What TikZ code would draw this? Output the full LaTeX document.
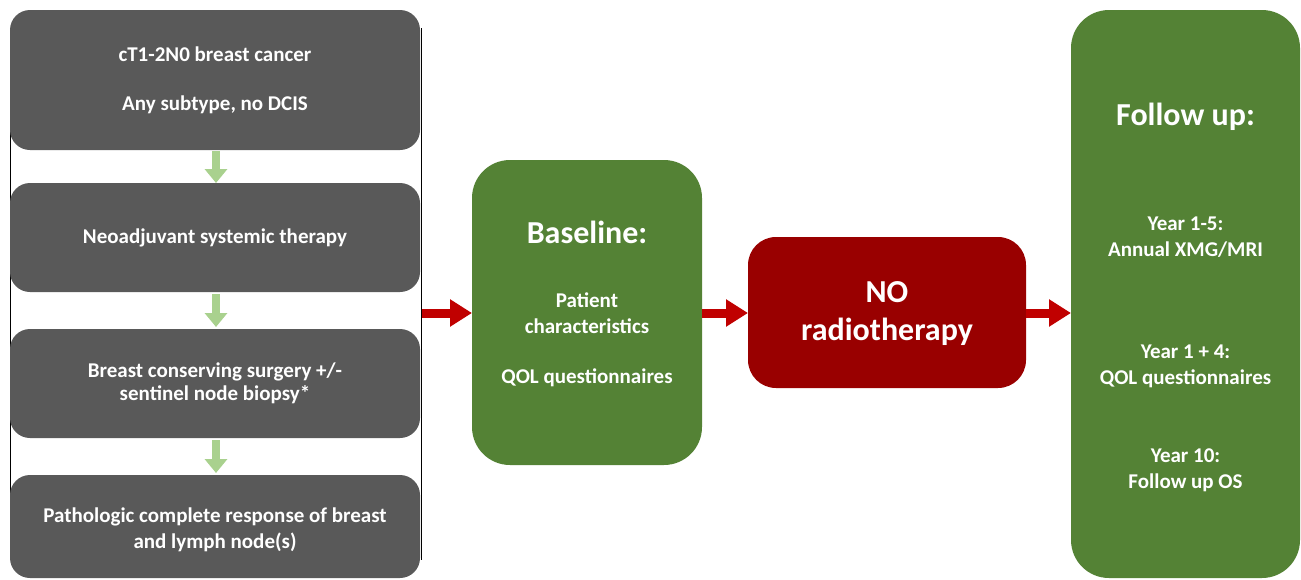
\documentclass[tikz,border=0pt]{standalone}
\usepackage{fontspec}
\setmainfont{Carlito}
\usetikzlibrary{arrows.meta}
\definecolor{dgray}{HTML}{595959}
\definecolor{dgreen}{HTML}{548235}
\definecolor{nored}{HTML}{990000}
\definecolor{arrred}{HTML}{C00000}
\definecolor{lgreen}{HTML}{A9D18E}
\tikzset{
  graybox/.style={fill=dgray, rounded corners=20pt, inner sep=0pt},
  greenbox/.style={fill=dgreen, rounded corners=38pt, inner sep=0pt},
  redbox/.style={fill=nored, rounded corners=28pt, inner sep=0pt},
  txt/.style={text=white, font=\bfseries\fontsize{21}{26}\selectfont, align=center, inner sep=0pt},
  bigtxt/.style={text=white, font=\bfseries\fontsize{32}{38}\selectfont, align=center, inner sep=0pt},
  garrow/.style={draw=lgreen, line width=8pt, -{Triangle[length=14pt,width=22pt]}},
  rarrow/.style={draw=arrred, line width=9pt, -{Triangle[length=22pt,width=26pt]}},
}
\begin{document}
\begin{tikzpicture}[x=1pt,y=-1pt]
\useasboundingbox (0,0) rectangle (1301,579);
% thin frame lines
\draw[black, line width=1pt] (10.5,45) -- (10.5,553);
\draw[black, line width=1pt] (421.5,28) -- (421.5,560);
% left boxes
\path[graybox] (10,10) rectangle (420,150);
\node (b1) at (215,80) {};
\path[graybox] (10,183) rectangle (420,292);
\node (b2) at (215,237.5) {};
\path[graybox] (10,329) rectangle (420,438);
\node (b3) at (215,383.5) {};
\path[graybox] (10,475) rectangle (420,578);
\node (b4) at (215,526.5) {};
\node[txt] at (215,54) {cT1-2N0 breast cancer};
\node[txt] at (215,105) {Any subtype, no DCIS};
\node[txt] at (215,238) {Neoadjuvant systemic therapy};
\node[txt, font=\bfseries\fontsize{21}{23}\selectfont] at (215,383) {Breast conserving surgery +/-\\sentinel node biopsy*};
\node[txt] at (215,530) {Pathologic complete response of breast\\and lymph node(s)};
% green arrows
\coordinate (g1s) at (216,151); \coordinate (g1e) at (216,183);
\coordinate (g2s) at (216,294); \coordinate (g2e) at (216,327);
\coordinate (g3s) at (216,440); \coordinate (g3e) at (216,473);
\draw[garrow] (g1s) -- (g1e);
\draw[garrow] (g2s) -- (g2e);
\draw[garrow] (g3s) -- (g3e);
% baseline
\path[greenbox] (472,160) rectangle (702,465);
\node (base) at (587,312.5) {};
\node[bigtxt] at (587,232) {Baseline:};
\node[txt] at (587,313.5) {Patient\\characteristics};
\node[txt] at (587,378) {QOL questionnaires};
% no radiotherapy
\path[redbox] (748,237) rectangle (1026,388);
\node (norad) at (887,312.5) {};
\node[bigtxt] at (887,314) {NO\\radiotherapy};
% follow up
\path[greenbox] (1071,10) rectangle (1300,578);
\node (fu) at (1185.5,294) {};
\node[bigtxt] at (1185.5,117) {Follow up:};
\node[txt] at (1185.5,237.5) {Year 1-5:\\Annual XMG/MRI};
\node[txt] at (1185.5,366.5) {Year 1 + 4:\\QOL questionnaires};
\node[txt] at (1185.5,470) {Year 10:\\Follow up OS};
% red arrows
\coordinate (r1s) at (422,313); \coordinate (r1e) at (472,313);
\coordinate (r2s) at (702,313); \coordinate (r2e) at (748,313);
\coordinate (r3s) at (1026,313); \coordinate (r3e) at (1071,313);
\draw[rarrow] (r1s) -- (r1e);
\draw[rarrow] (r2s) -- (r2e);
\draw[rarrow] (r3s) -- (r3e);
\end{tikzpicture}
\end{document}
